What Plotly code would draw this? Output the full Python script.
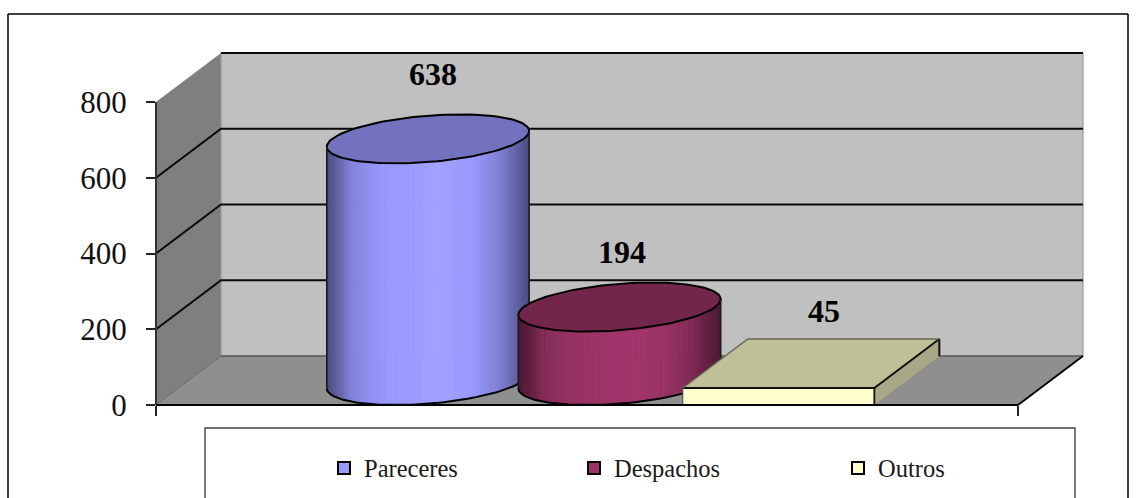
import numpy as np
import plotly.graph_objects as go

# ---- data ----
series_names = ["Pareceres", "Despachos", "Outros"]
series_values = [638, 194, 45]
series_colors = ["#9999FF", "#993366", "#FFFFCC"]
y_ticks = [0, 200, 400, 600, 800]

# ---- projection constants (layout only) ----
W, H = 1137, 498
PX_LEFT, PX_RIGHT = 156, 1018
PX_Y0, PX_PER_UNIT = 405, 303 / 800
PX_DX, PX_DY = 65, 49
X_SPAN = PX_RIGHT - PX_LEFT
DX = PX_DX / X_SPAN
DY = PX_DY / PX_PER_UNIT
BAR_W = 1 / 4.5
FONT = "Liberation Serif"

fig = go.Figure()


def hex2rgb(c):
    return np.array([int(c[i:i + 2], 16) for i in (1, 3, 5)], float)


def shade(c, k):
    r = np.clip(hex2rgb(c) * k, 0, 255).astype(int)
    return f"rgb({r[0]},{r[1]},{r[2]})"


def poly(xs, ys, fill, line=None, lw=0):
    fig.add_trace(go.Scatter(
        x=list(xs) + [xs[0]], y=list(ys) + [ys[0]], mode="lines", fill="toself",
        fillcolor=fill, line=dict(color=line or fill, width=lw if line else 0),
        hoverinfo="skip", showlegend=False))


def seg(xs, ys, color="#000000", lw=2):
    fig.add_trace(go.Scatter(x=list(xs), y=list(ys), mode="lines",
                             line=dict(color=color, width=lw),
                             hoverinfo="skip", showlegend=False))


top_v = y_ticks[-1]
# walls and floor
poly([0, DX, DX, 0], [0, DY, top_v + DY, top_v], "#7F7F7F")
poly([DX, 1 + DX, 1 + DX, DX], [DY, DY, top_v + DY, top_v + DY], "#C0C0C0")
poly([0, 1, 1 + DX, DX], [0, 0, DY, DY], "#8F8F8F")
seg([DX, DX], [DY, top_v + DY], "#9A9A9A", 1.4)
seg([1 + DX, 1 + DX], [DY, top_v + DY], "#A6A6A6", 1.4)
seg([0, DX], [0, DY], "#666666", 1)
seg([DX, 1 + DX], [DY, DY], "#555555", 1.6)

# gridlines
for v in y_ticks[1:]:
    if v < top_v:
        seg([0, DX, 1 + DX], [v, v + DY, v + DY], "#0A0A0A", 2)
seg([DX, 1 + DX], [top_v + DY, top_v + DY], "#0A0A0A", 2)

# axis lines
seg([0, 0], [0, top_v], "#333333", 2)
seg([1, 1 + DX], [0, DY], "#000000", 1.8)

BRIGHT_F = [0, .05, .12, .25, .55, .72, .85, .95, 1]
BRIGHT_K = [.5, .62, .85, .98, 1.06, 1.0, .85, .62, .5]


def cylinder(center, value, color):
    rx, rd = BAR_W / 2, 0.5
    cx = center
    t0 = np.arctan2(rd * DX, rx)

    def pt(t, v):
        return (cx + rd * DX + rx * np.cos(t) + rd * DX * np.sin(t),
                v + rd * DY + rd * DY * np.sin(t))

    n = 80
    s = np.linspace(-1, 1, n + 1)
    ts = t0 + np.pi + np.arccos(-s)
    for i in range(n):
        f = (s[i] + s[i + 1]) / 2 * .5 + .5
        col = shade(color, float(np.interp(f, BRIGHT_F, BRIGHT_K)))
        x1, y1 = pt(ts[i], 0)
        x2, y2 = pt(ts[i + 1], 0)
        x3, y3 = pt(ts[i + 1], value)
        x4, y4 = pt(ts[i], value)
        poly([x1, x2, x3, x4], [y1, y2, y3, y4], col, col, 0.8)
    tt = np.linspace(0, 2 * np.pi, 121)
    ex, ey = pt(tt, value)
    poly(list(ex), list(ey), shade(color, .75))
    seg(ex, ey, "#000000", 2)
    tb = np.linspace(ts[0], ts[-1], 61)
    bx, by = pt(tb, 0)
    seg(bx, by, "#000000", 2)
    for t in (ts[0], ts[-1]):
        lx, ly = pt(np.array([t, t]), np.array([0, value]))
        seg(lx, ly, "#1A1A1A", 1.6)


def box(center, value, color):
    x0, x1 = center - BAR_W / 2, center + BAR_W / 2
    poly([x1, x1 + DX, x1 + DX, x1], [0, DY, value + DY, value], shade(color, .66))
    poly([x0, x1, x1 + DX, x0 + DX], [value, value, value + DY, value + DY], shade(color, .75))
    poly([x0, x1, x1, x0], [0, 0, value, value], color)
    seg([x0, x1, x1 + DX, x1 + DX], [value, value, value + DY, DY + 0], "#111111", 2)
    seg([x1, x1], [0, value], "#111111", 1.8)
    seg([x0, x0], [0, value], "#444444", 1)
    seg([x0, x0 + DX, x1 + DX], [value, value + DY, value + DY], "#666655", 1.4)


centers = [0.5 + (i - 1) * BAR_W for i in range(3)]
cylinder(centers[0], series_values[0], series_colors[0])
cylinder(centers[1], series_values[1], series_colors[1])
box(centers[2], series_values[2], series_colors[2])

# front baseline
seg([0, 1], [0, 0], "#000000", 2.2)

# legend entries
for i, (nm, col) in enumerate(zip(series_names, series_colors)):
    fig.add_trace(go.Scatter(
        x=[None], y=[None], mode="markers", name=nm,
        legend="legend" if i == 0 else f"legend{i + 1}",
        marker=dict(symbol="square", size=12, color=col, line=dict(color="#000000", width=2))))

# data labels
label_shift = [(5, 65), (2.5, 55), (13, 52)]
annots = []
for c, v, (sx, sy) in zip(centers, series_values, label_shift):
    annots.append(dict(x=c + DX / 2, y=v + DY / 2, text=f"<b>{v}</b>", showarrow=False,
                       xshift=sx, yshift=sy, font=dict(family=FONT, size=32, color="#000000")))


def px(x):
    return x / W


def py(y):
    return 1 - y / H


legend_left = [324, 574, 838]
legend_common = dict(orientation="v", xanchor="left", yanchor="middle", y=py(468),
                     bgcolor="rgba(0,0,0,0)", borderwidth=0,
                     font=dict(family=FONT, size=24.5, color="#1A1A1A"), itemsizing="constant")

shapes = [
    dict(type="line", xref="paper", yref="paper", x0=px(8), x1=px(8), y0=py(14), y1=0,
         line=dict(color="#000000", width=1.5)),
    dict(type="line", xref="paper", yref="paper", x0=px(8), x1=px(1128), y0=py(14), y1=py(14),
         line=dict(color="#000000", width=1.5)),
    dict(type="line", xref="paper", yref="paper", x0=px(1128), x1=px(1128), y0=py(14), y1=0,
         line=dict(color="#000000", width=1.5)),
    dict(type="path", xref="paper", yref="paper",
         path=f"M {px(205)} 0 L {px(205)} {py(428)} L {px(1075)} {py(428)} L {px(1075)} 0",
         line=dict(color="#444444", width=1.4)),
]

fig.update_layout(
    width=W, height=H, autosize=False,
    margin=dict(l=0, r=0, t=0, b=0),
    paper_bgcolor="#FFFFFF", plot_bgcolor="#FFFFFF",
    showlegend=True,
    legend=dict(x=px(legend_left[0]), **legend_common),
    legend2=dict(x=px(legend_left[1]), **legend_common),
    legend3=dict(x=px(legend_left[2]), **legend_common),
    annotations=annots, shapes=shapes,
    xaxis=dict(range=[(0 - PX_LEFT) / X_SPAN, (W - PX_LEFT) / X_SPAN], domain=[0, 1],
               anchor="free", position=py(405), tickmode="array", tickvals=[0, 1],
               ticktext=["", ""], ticks="outside", ticklen=10, tickwidth=1.5,
               tickcolor="#222222", showgrid=False, zeroline=False, showline=False,
               fixedrange=True),
    yaxis=dict(range=[(PX_Y0 - H) / PX_PER_UNIT, PX_Y0 / PX_PER_UNIT], domain=[0, 1],
               anchor="free", position=px(155), tickmode="array", tickvals=y_ticks,
               ticks="outside", ticklen=9, tickwidth=1.5, tickcolor="#222222",
               ticklabelstandoff=13, tickfont=dict(family=FONT, size=31, color="#111111"),
               showgrid=False, zeroline=False, showline=False, fixedrange=True),
)

fig.write_html("out.html", config={"displayModeBar": False},
               post_script="document.body.style.margin='0';document.documentElement.style.overflow='hidden';")
